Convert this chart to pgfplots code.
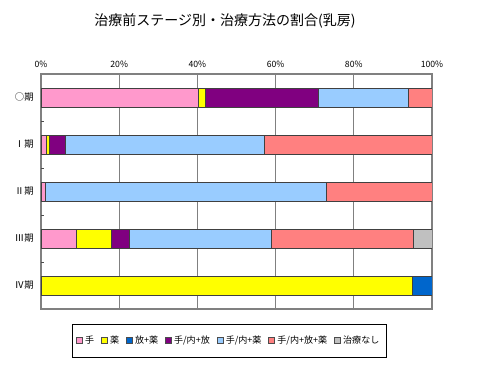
\documentclass[border=0pt]{standalone}
\usepackage{fontspec}
\setmainfont{Noto Sans CJK JP}
\usepackage{pgfplots}
\pgfplotsset{compat=1.18}
\definecolor{cTe}{HTML}{FF99CC}
\definecolor{cKu}{HTML}{FFFF00}
\definecolor{cHoKu}{HTML}{0066CC}
\definecolor{cTeHo}{HTML}{800080}
\definecolor{cTeKu}{HTML}{99CCFF}
\definecolor{cTeHoKu}{HTML}{FF8080}
\definecolor{cNone}{HTML}{C0C0C0}
\begin{document}
\begin{tikzpicture}
\useasboundingbox (0,0) rectangle (360pt,279pt);
\node[font=\fontsize{10.5}{12}\selectfont] at (168.75pt,263pt) {治療前ステージ別・治療方法の割合(乳房)};
\begin{axis}[
  at={(30.75pt,47.25pt)}, anchor=south west,
  scale only axis, width=293.25pt, height=176.25pt,
  xbar stacked, bar width=0.4,
  xmin=0, xmax=100, ymin=-0.5, ymax=4.5, y dir=reverse,
  xtick={0,20,40,60,80,100},
  xticklabels={0\%,20\%,40\%,60\%,80\%,100\%},
  xticklabel pos=upper,
  ytick={0,1,2,3,4},
  yticklabels={○期,Ⅰ期,Ⅱ期,Ⅲ期,Ⅳ期},
  ytick pos=left,
  extra y ticks={0.5,1.5,2.5,3.5},
  extra y tick labels={},
  extra y tick style={ytick style={draw=black!70, line width=0.5pt}, major tick length=2.5pt, tick align=inside, grid=none},
  tick label style={font=\fontsize{6.5}{7}\selectfont},
  yticklabel style={font=\fontsize{7}{8}\selectfont, xshift=-2pt},
  xticklabel style={yshift=1pt},
  major tick length=0pt,
  xmajorgrids, ymajorgrids=false,
  major grid style={draw=black!50, line width=0.8pt},
  axis line style={draw=black!50, line width=0.8pt},
  legend columns=-1,
  legend style={at={(0.481,-0.136)}, anchor=center, draw=black, line width=0.6pt,
    font=\fontsize{6.8}{8}\selectfont, inner xsep=3pt, inner ysep=7pt,
    /tikz/every even column/.append style={column sep=3pt}},
  legend image code/.code={\draw[#1, draw=black!70, line width=0.4pt] (0pt,-2pt) rectangle (4.5pt,2.5pt);},
  every axis plot/.append style={draw=black!75, line width=0.5pt},
]
\addplot[fill=cTe] coordinates {(40.2,0) (1.4,1) (1.2,2) (9.0,3) (0,4)};
\addplot[fill=cKu] coordinates {(1.8,0) (0.7,1) (0,2) (9.0,3) (94.9,4)};
\addplot[fill=cHoKu] coordinates {(0,0) (0,1) (0,2) (0,3) (5.1,4)};
\addplot[fill=cTeHo] coordinates {(29.0,0) (4.2,1) (0,2) (4.7,3) (0,4)};
\addplot[fill=cTeKu] coordinates {(22.9,0) (50.7,1) (71.9,2) (36.3,3) (0,4)};
\addplot[fill=cTeHoKu] coordinates {(6.1,0) (43.0,1) (26.9,2) (36.3,3) (0,4)};
\addplot[fill=cNone] coordinates {(0,0) (0,1) (0,2) (4.7,3) (0,4)};
\legend{手,薬,放+薬,手/内+放,手/内+薬,手/内+放+薬,治療なし}
\end{axis}
\end{tikzpicture}
\end{document}
